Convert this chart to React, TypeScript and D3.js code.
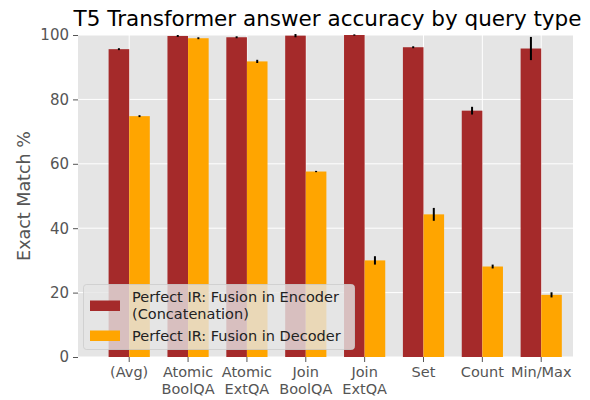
import React, { useRef, useEffect } from 'react';
import * as d3 from 'd3';

const categories = ['(Avg)', 'Atomic\nBoolQA', 'Atomic\nExtQA', 'Join\nBoolQA', 'Join\nExtQA', 'Set', 'Count', 'Min/Max'];
const encoder = [95.6, 99.7, 99.3, 99.8, 100, 96.2, 76.5, 95.8];
const encoderErr = [0.3, 0.3, 0.3, 0.5, 0.2, 0.3, 1.2, 3.6];
const decoder = [74.8, 99.0, 91.8, 57.6, 30.0, 44.3, 28.1, 19.3];
const decoderErr = [0.3, 0.3, 0.5, 0.2, 1.3, 2.0, 0.6, 0.8];
const yTicks = [0, 20, 40, 60, 80, 100];
const seriesNames = ['Perfect IR: Fusion in Encoder\n(Concatenation)', 'Perfect IR: Fusion in Decoder'];
const colors = ['#a52a2a', '#ffa500'];

function App() {
    const ref = useRef();

    useEffect(() => {
        const svg = d3.select(ref.current);
        svg.selectAll('*').remove();
        const left = 78, right = 573, top = 35, bottom = 357;
        const barW = 0.35;
        const font = 'DejaVu Sans';

        const x = d3.scaleLinear().domain([-0.87, 7.54]).range([left, right]);
        const y = d3.scaleLinear().domain([0, 100]).range([bottom, top]);

        svg.append('rect')
            .attr('x', left).attr('y', top)
            .attr('width', right - left).attr('height', bottom - top)
            .attr('fill', '#e5e5e5');

        // grid
        svg.append('g').selectAll('line').data(yTicks).join('line')
            .attr('x1', left).attr('x2', right)
            .attr('y1', d => y(d)).attr('y2', d => y(d))
            .attr('stroke', 'white').attr('stroke-width', 1);
        svg.append('g').selectAll('line').data(categories).join('line')
            .attr('x1', (d, i) => x(i)).attr('x2', (d, i) => x(i))
            .attr('y1', top).attr('y2', bottom)
            .attr('stroke', 'white').attr('stroke-width', 1);

        const series = [
            { vals: encoder, err: encoderErr, off: -barW },
            { vals: decoder, err: decoderErr, off: 0 },
        ];
        series.forEach((s, si) => {
            svg.append('g').selectAll('rect').data(s.vals).join('rect')
                .attr('x', (d, i) => x(i + s.off))
                .attr('width', x(barW) - x(0))
                .attr('y', d => y(d))
                .attr('height', d => bottom - y(d))
                .attr('fill', colors[si]);
        });
        series.forEach((s) => {
            svg.append('g').selectAll('line').data(s.vals).join('line')
                .attr('x1', (d, i) => x(i + s.off + barW / 2))
                .attr('x2', (d, i) => x(i + s.off + barW / 2))
                .attr('y1', (d, i) => y(d - s.err[i]))
                .attr('y2', (d, i) => y(d + s.err[i]))
                .attr('stroke', 'black').attr('stroke-width', 2);
        });

        // y axis
        const yAxis = svg.append('g')
            .attr('transform', `translate(${left},0)`)
            .call(d3.axisLeft(y).tickValues(yTicks).tickSize(5).tickPadding(4));
        yAxis.select('.domain').remove();
        yAxis.selectAll('line').attr('stroke', '#555');
        yAxis.selectAll('text').attr('fill', '#555').attr('font-size', 15).attr('font-family', font);

        // x axis, two-line labels
        const xg = svg.append('g');
        categories.forEach((c, i) => {
            xg.append('line')
                .attr('x1', x(i)).attr('x2', x(i))
                .attr('y1', bottom).attr('y2', bottom + 5)
                .attr('stroke', '#555');
            c.split('\n').forEach((line, li) => {
                xg.append('text')
                    .attr('x', x(i)).attr('y', bottom + 20 + li * 17)
                    .attr('text-anchor', 'middle')
                    .attr('fill', '#555').attr('font-size', 14.5).attr('font-family', font)
                    .text(line);
            });
        });

        svg.append('text')
            .attr('transform', `translate(30,${(top + bottom) / 2}) rotate(-90)`)
            .attr('text-anchor', 'middle')
            .attr('fill', '#555').attr('font-size', 17.5).attr('font-family', font)
            .text('Exact Match %');

        svg.append('text')
            .attr('x', (left + right) / 2 + 2).attr('y', 26)
            .attr('text-anchor', 'middle')
            .attr('fill', 'black').attr('font-size', 21.5).attr('font-family', font)
            .text('T5 Transformer answer accuracy by query type');

        // legend
        const lg = svg.append('g').attr('transform', 'translate(83.5,284.5)');
        lg.append('rect')
            .attr('width', 271).attr('height', 65).attr('rx', 3)
            .attr('fill', '#e5e5e5').attr('fill-opacity', 0.8)
            .attr('stroke', '#cccccc').attr('stroke-opacity', 0.8);
        const patchY = [16, 46];
        const textY = [17, 56.5];
        seriesNames.forEach((name, i) => {
            lg.append('rect')
                .attr('x', 6.5).attr('y', patchY[i])
                .attr('width', 30).attr('height', 10.5)
                .attr('fill', colors[i]);
            name.split('\n').forEach((line, li) => {
                lg.append('text')
                    .attr('x', 48.5).attr('y', textY[i] + li * 17)
                    .attr('fill', '#222').attr('font-size', 14.5).attr('font-family', font)
                    .text(line);
            });
        });
    }, []);

    return (
        <div style={{ margin: -8 }}>
            <svg width={590} height={400} ref={ref}></svg>
        </div>
    );
}

export default App;
